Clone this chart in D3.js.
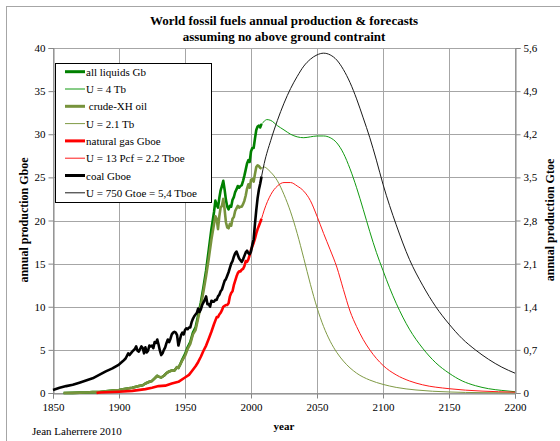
<!DOCTYPE html>
<html>
<head>
<meta charset="utf-8">
<script src="https://cdn.jsdelivr.net/npm/d3@7"></script>
<style>
  body { margin: 0; background: #fff; }
  text { font-family: "Liberation Serif", "Times New Roman", serif; }
</style>
</head>
<body>
<div id="container"></div>
<script>
let w = 560;
let h = 441;

// DATA [year, value in Gboe]
let coalHist = [[1850,0.35],[1855,0.6],[1860,0.8],[1865,0.95],[1870,1.2],[1875,1.45],[1880,1.7],[1885,2.1],[1890,2.5],[1895,2.85],[1900,3.3],[1903,3.7],[1905,4.0],[1907,4.6],[1908,4.4],[1910,4.8],[1912,5.1],[1913,5.4],[1914,4.9],[1915,4.8],[1916,5.1],[1917,5.4],[1918,5.2],[1919,4.6],[1920,5.3],[1921,4.7],[1922,4.9],[1923,5.5],[1924,5.4],[1925,5.5],[1926,5.2],[1927,5.9],[1928,5.8],[1929,6.2],[1930,5.6],[1931,4.9],[1932,4.4],[1933,4.6],[1934,5.0],[1935,5.3],[1936,5.8],[1937,6.2],[1938,5.9],[1939,6.3],[1940,6.8],[1941,7.0],[1942,7.1],[1943,7.0],[1944,6.7],[1945,5.5],[1946,6.1],[1947,6.7],[1948,7.0],[1949,6.8],[1950,7.3],[1951,7.5],[1952,7.4],[1953,7.6],[1954,7.6],[1955,8.2],[1956,8.6],[1957,8.9],[1958,9.1],[1959,9.3],[1960,9.8],[1961,9.4],[1962,9.7],[1963,10.2],[1964,10.5],[1965,10.8],[1966,11.2],[1967,10.3],[1968,10.3],[1969,10.0],[1970,10.7],[1971,10.6],[1972,10.6],[1973,10.8],[1974,10.8],[1975,11.2],[1976,11.4],[1977,11.8],[1978,12.0],[1979,12.5],[1980,13.0],[1981,13.2],[1982,13.6],[1983,14.0],[1984,14.5],[1985,15.0],[1986,15.3],[1987,15.8],[1988,16.2],[1989,16.4],[1990,16.0],[1991,15.6],[1992,15.4],[1993,15.2],[1994,15.5],[1995,15.9],[1996,16.3],[1997,16.5],[1998,16.2],[1999,16.1],[2000,16.4],[2001,17.2],[2002,17.8],[2003,19.6],[2004,21.2],[2005,22.6],[2006,23.6],[2007,24.3],[2008,25.1]];
let coalFc = [[2008,25.1],[2010,26.6],[2015,29.3],[2020,31.6],[2025,33.6],[2030,35.3],[2035,36.7],[2040,37.9],[2045,38.7],[2050,39.2],[2055,39.4],[2060,39.2],[2065,38.6],[2070,37.5],[2075,36.0],[2080,34.1],[2085,31.9],[2090,29.6],[2095,27.0],[2100,24.2],[2110,19.5],[2120,15.5],[2130,12.5],[2140,10.0],[2150,8.0],[2160,6.3],[2170,5.0],[2180,3.9],[2190,3.0],[2200,2.3]];

let liquidsHist = [[1858,0],[1865,0.02],[1870,0.04],[1875,0.06],[1880,0.1],[1885,0.12],[1890,0.2],[1895,0.28],[1900,0.35],[1905,0.5],[1910,0.6],[1915,0.8],[1918,0.9],[1920,1.1],[1923,1.3],[1925,1.4],[1927,1.7],[1929,2.0],[1930,1.9],[1932,1.8],[1934,2.0],[1936,2.3],[1938,2.5],[1940,2.6],[1942,2.6],[1944,3.0],[1945,2.9],[1946,3.2],[1948,3.9],[1950,4.5],[1952,5.3],[1954,5.9],[1956,7.0],[1958,7.6],[1960,9.0],[1962,10.5],[1964,12.3],[1966,14.2],[1968,16.6],[1970,19.0],[1972,21.0],[1973,22.3],[1974,21.8],[1975,21.5],[1976,22.6],[1977,23.5],[1978,24.0],[1979,24.6],[1980,23.6],[1981,22.4],[1982,21.6],[1983,21.3],[1984,21.7],[1985,21.6],[1986,22.4],[1987,22.7],[1988,23.3],[1989,23.6],[1990,24.0],[1991,23.8],[1992,24.0],[1993,24.1],[1994,24.6],[1995,25.2],[1996,25.9],[1997,26.6],[1998,27.0],[1999,26.8],[2000,28.0],[2001,28.4],[2002,28.4],[2003,29.5],[2004,30.5],[2005,30.9],[2006,31.0],[2007,30.8],[2008,31.2]];
let liquidsFc = [[2008,31.2],[2010,31.5],[2012,31.7],[2015,31.6],[2020,31.0],[2025,30.5],[2030,30.0],[2035,29.7],[2040,29.6],[2045,29.7],[2050,29.8],[2055,29.8],[2060,29.6],[2065,29.0],[2070,27.8],[2075,26.0],[2080,23.8],[2085,21.3],[2090,18.7],[2095,16.3],[2100,14.2],[2105,12.2],[2110,10.4],[2120,7.4],[2130,5.2],[2140,3.5],[2150,2.3],[2160,1.4],[2170,0.85],[2180,0.5],[2190,0.3],[2200,0.15]];

let crudeHist = [[1858,0],[1865,0.02],[1870,0.04],[1875,0.06],[1880,0.1],[1885,0.12],[1890,0.2],[1895,0.28],[1900,0.35],[1905,0.5],[1910,0.6],[1915,0.8],[1918,0.9],[1920,1.1],[1923,1.3],[1925,1.4],[1927,1.7],[1929,2.0],[1930,1.9],[1932,1.8],[1934,2.0],[1936,2.3],[1938,2.5],[1940,2.6],[1942,2.6],[1944,3.0],[1945,2.9],[1946,3.2],[1948,3.8],[1950,4.3],[1952,5.1],[1954,5.7],[1956,6.8],[1958,7.3],[1960,8.7],[1962,10.1],[1964,11.8],[1966,13.6],[1968,15.6],[1970,17.8],[1972,19.6],[1973,20.5],[1974,20.2],[1975,19.0],[1976,20.5],[1977,21.5],[1978,21.7],[1979,22.5],[1980,21.3],[1981,19.8],[1982,19.2],[1983,19.1],[1984,19.6],[1985,19.4],[1986,20.2],[1987,20.4],[1988,21.1],[1989,21.4],[1990,21.7],[1991,21.5],[1992,21.6],[1993,21.6],[1994,21.9],[1995,22.3],[1996,22.9],[1997,23.7],[1998,24.2],[1999,23.8],[2000,24.7],[2001,24.8],[2002,24.5],[2003,25.4],[2004,26.2],[2005,26.4],[2006,26.3],[2007,26.1],[2008,26.0]];
let crudeFc = [[2008,26.0],[2010,26.2],[2013,25.9],[2015,25.6],[2020,24.6],[2025,23.0],[2030,21.0],[2035,18.5],[2040,15.6],[2045,12.6],[2050,9.9],[2055,7.7],[2060,6.0],[2065,4.7],[2070,3.7],[2080,2.3],[2090,1.5],[2100,1.0],[2110,0.65],[2125,0.35],[2150,0.12],[2175,0.04],[2200,0.02]];

let gasHist = [[1883,0],[1885,0.05],[1890,0.08],[1900,0.15],[1910,0.25],[1920,0.45],[1925,0.6],[1930,0.8],[1935,0.85],[1940,1.1],[1945,1.3],[1950,1.8],[1953,2.1],[1955,2.5],[1958,3.1],[1960,3.6],[1962,4.2],[1964,4.9],[1966,5.5],[1968,6.3],[1970,7.1],[1972,8.0],[1974,8.8],[1975,8.8],[1976,9.1],[1977,9.3],[1978,9.6],[1979,10.0],[1980,10.1],[1981,10.2],[1982,10.2],[1983,10.4],[1984,11.2],[1985,11.6],[1986,11.8],[1987,12.5],[1988,13.0],[1989,13.5],[1990,13.9],[1991,14.1],[1992,14.1],[1993,14.3],[1994,14.4],[1995,14.7],[1996,15.3],[1997,15.2],[1998,15.5],[1999,16.0],[2000,16.6],[2001,17.0],[2002,17.4],[2003,17.9],[2004,18.5],[2005,19.0],[2006,19.4],[2007,19.8],[2008,20.2]];
let gasFc = [[2008,20.2],[2010,21.2],[2015,23.0],[2020,24.0],[2025,24.4],[2030,24.4],[2035,24.0],[2040,23.4],[2045,22.3],[2050,20.5],[2055,18.5],[2060,16.6],[2065,14.6],[2070,12.0],[2075,9.5],[2080,7.7],[2085,6.2],[2090,5.0],[2100,3.2],[2110,2.1],[2120,1.4],[2130,0.95],[2150,0.5],[2175,0.22],[2200,0.1]];

let xTicks = [1850,1900,1950,2000,2050,2100,2150,2200];
let yTicks = [0,5,10,15,20,25,30,35,40];
let yRightTicks = ["0","0,7","1,4","2,1","2,8","3,5","4,2","4,9","5,6"];
let legendLabels = ["all liquids Gb","U = 4 Tb"," crude-XH oil","U = 2.1 Tb","natural gas Gboe","U = 13 Pcf = 2.2 Tboe","coal Gboe","U = 750 Gtoe = 5,4 Tboe"];

// series list, in legend order
let series = [
  {data: liquidsHist, color: "#008000", width: 2.6, curve: d3.curveLinear},
  {data: liquidsFc, color: "#119a11", width: 1, curve: d3.curveMonotoneX},
  {data: crudeHist, color: "#77933c", width: 2.6, curve: d3.curveLinear},
  {data: crudeFc, color: "#7f9a45", width: 1, curve: d3.curveMonotoneX},
  {data: gasHist, color: "#ff0000", width: 2.6, curve: d3.curveLinear},
  {data: gasFc, color: "#ff1a1a", width: 1, curve: d3.curveMonotoneX},
  {data: coalHist, color: "#000000", width: 2.6, curve: d3.curveLinear},
  {data: coalFc, color: "#1a1a1a", width: 1, curve: d3.curveMonotoneX}
];

let plotLeft = 53, plotRight = 515, plotTop = 48, plotBottom = 393;

let viz = d3.select("#container").append("svg")
    .attr("width", w)
    .attr("height", h)
    .style("display", "block")
    .style("background-color", "white");

// outer chart border
viz.append("rect")
  .attr("x", 6.5).attr("y", 6.5)
  .attr("width", w).attr("height", h)
  .attr("fill", "none")
  .attr("stroke", "#a6a6a6");

let xScale = d3.scaleLinear().domain([1850, 2200]).range([plotLeft, plotRight]);
let yScale = d3.scaleLinear().domain([0, 40]).range([plotBottom, plotTop]);

// gridlines
viz.append("g").selectAll("line").data(yTicks).enter()
  .append("line")
    .attr("x1", plotLeft).attr("x2", plotRight)
    .attr("y1", d => Math.round(yScale(d)) + 0.5)
    .attr("y2", d => Math.round(yScale(d)) + 0.5)
    .attr("stroke", "#a6a6a6");
viz.append("g").selectAll("line").data(xTicks).enter()
  .append("line")
    .attr("y1", plotTop).attr("y2", plotBottom)
    .attr("x1", d => Math.round(xScale(d)) + 0.5)
    .attr("x2", d => Math.round(xScale(d)) + 0.5)
    .attr("stroke", "#a6a6a6");

// axes
let xAxis = d3.axisBottom(xScale).tickValues(xTicks).tickSize(5).tickFormat(d3.format("d"));
let yAxis = d3.axisLeft(yScale).tickValues(yTicks).tickSize(5);
let yRight = d3.scaleLinear().domain([0, 5.6]).range([plotBottom, plotTop]);
let yAxisR = d3.axisRight(yRight).tickValues(d3.range(0, 9).map(i => i * 0.7)).tickSize(5)
  .tickFormat((d, i) => yRightTicks[i]);

function styleAxis(g) {
  g.selectAll("path").attr("stroke", "#868686");
  g.selectAll("line").attr("stroke", "#868686");
  g.selectAll("text").attr("font-size", 11).attr("fill", "#000")
    .style("font-family", "'Liberation Serif', serif");
}

viz.append("g").attr("transform", "translate(0," + (plotBottom + 0.5) + ")").call(xAxis).call(styleAxis)
  .selectAll("text").attr("dy", "0.9em");
viz.append("g").attr("transform", "translate(" + (plotLeft + 0.5) + ",0)").call(yAxis).call(styleAxis);
viz.append("g").attr("transform", "translate(" + (plotRight + 0.5) + ",0)").call(yAxisR).call(styleAxis);

// lines
let lineMaker = d3.line()
  .x(d => xScale(d[0]))
  .y(d => yScale(d[1]));

series.forEach(function(s){
  viz.append("path")
    .attr("d", lineMaker.curve(s.curve)(s.data))
    .attr("fill", "none")
    .attr("stroke", s.color)
    .attr("stroke-width", s.width)
    .attr("stroke-linejoin", "round");
});

// legend
let lg = viz.append("g");
lg.append("rect")
  .attr("x", 55.5).attr("y", 63.5)
  .attr("width", 156).attr("height", 139)
  .attr("fill", "white")
  .attr("stroke", "black");
let rows = lg.selectAll(".row").data(series).enter()
  .append("g")
    .attr("class", "row")
    .attr("transform", (d, i) => "translate(0," + (71.7 + i * 17.3) + ")");
rows.append("line")
  .attr("x1", 65).attr("x2", 85)
  .attr("stroke", d => d.color)
  .attr("stroke-width", d => d.width > 2 ? 3 : 1);
rows.append("text")
  .attr("x", 86).attr("y", 4)
  .attr("font-size", 11)
  .style("white-space", "pre")
  .text((d, i) => legendLabels[i]);

// titles
viz.append("text")
  .attr("x", 284).attr("y", 25)
  .attr("text-anchor", "middle")
  .attr("font-size", 13).attr("font-weight", "bold")
  .text("World fossil fuels annual production & forecasts");
viz.append("text")
  .attr("x", 284).attr("y", 41)
  .attr("text-anchor", "middle")
  .attr("font-size", 13).attr("font-weight", "bold")
  .text("assuming no above ground contraint");

viz.append("text")
  .attr("transform", "translate(28,220) rotate(-90)")
  .attr("text-anchor", "middle")
  .attr("font-size", 12).attr("font-weight", "bold")
  .text("annual production Gboe");
viz.append("text")
  .attr("transform", "translate(554,220) rotate(-90)")
  .attr("text-anchor", "middle")
  .attr("font-size", 12).attr("font-weight", "bold")
  .text("annual production Gtoe");

viz.append("text")
  .attr("x", 284).attr("y", 430)
  .attr("text-anchor", "middle")
  .attr("font-size", 11).attr("font-weight", "bold")
  .text("year");

viz.append("text")
  .attr("x", 32).attr("y", 435)
  .attr("font-size", 11)
  .text("Jean Laherrere 2010");
</script>
</body>
</html>
